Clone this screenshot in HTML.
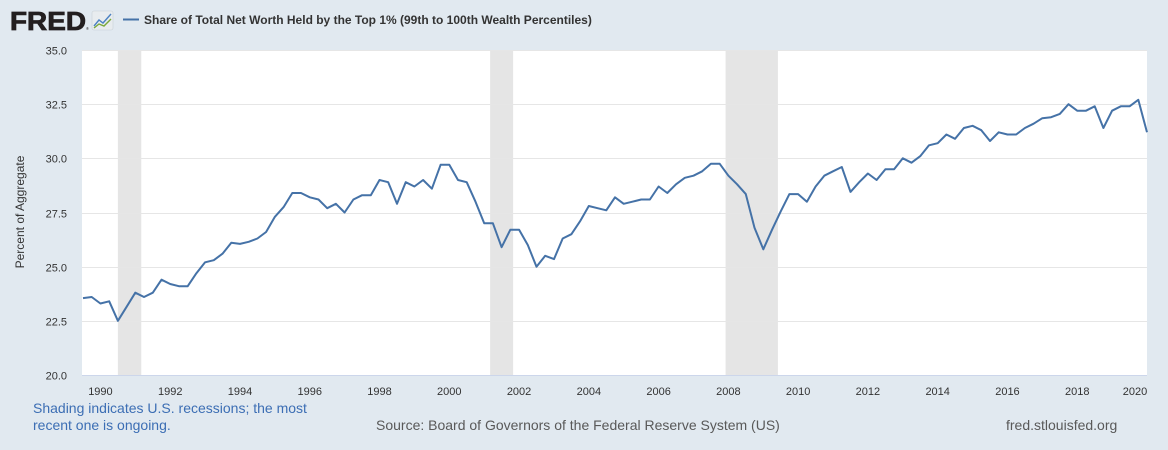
<!DOCTYPE html>
<html><head><meta charset="utf-8">
<style>
body{margin:0;width:1168px;height:450px;background:#e1e9f0;font-family:"Liberation Sans",Arial,sans-serif;overflow:hidden;}
svg{display:block}
</style></head>
<body>
<svg id="chart" width="1168" height="450">
  <g>
    <text x="10" y="30" font-size="26" font-weight="bold" fill="#231f20" textLength="76" lengthAdjust="spacingAndGlyphs" stroke="#231f20" stroke-width="0.8">FRED</text>
    <text x="86" y="30" font-size="4" fill="#231f20">®</text>
    <rect x="92" y="11" width="21" height="19" fill="#e8ecef" stroke="#c8d0d6" stroke-width="0.6" rx="2"/>
    <polyline points="94,26 99,20 103,23 111,14" fill="none" stroke="#4c82c3" stroke-width="1.4"/>
    <polyline points="94,28 99,24 104,26 111,19" fill="none" stroke="#7aa83a" stroke-width="1.4"/>
  </g>
  <g>
    <line x1="123" y1="19.5" x2="139" y2="19.5" stroke="#4572a7" stroke-width="2"/>
    <text x="144" y="24" font-size="12" font-weight="bold" fill="#333">Share of Total Net Worth Held by the Top 1% (99th to 100th Wealth Percentiles)</text>
  </g>
  <rect x="82" y="50" width="1065" height="325" fill="#fff"/>
  <g id="rec"></g>
  <g id="grid"></g>
  <g id="xt"></g>
  <g id="series"></g>
  <line x1="82" y1="375.5" x2="1147" y2="375.5" stroke="#ccd6eb" stroke-width="1"/>
  <text transform="translate(24,212) rotate(-90)" text-anchor="middle" font-size="12" fill="#333">Percent of Aggregate</text>
  <text x="33" y="413" font-size="14" fill="#3c6eb4">Shading indicates U.S. recessions; the most</text>
  <text x="33" y="430" font-size="14" fill="#3c6eb4">recent one is ongoing.</text>
  <text x="376" y="430" font-size="14" fill="#595959">Source: Board of Governors of the Federal Reserve System (US)</text>
  <text x="1006" y="430" font-size="14" fill="#595959">fred.stlouisfed.org</text>
</svg>
<script>
const startYear = 1989.5;
const values = [
23.55,23.6,23.3,23.4,22.5,23.15,23.8,23.6,23.8,24.4,24.2,24.1,24.1,24.7,25.2,25.3,25.6,26.1,26.05,26.15,26.3,26.6,27.3,27.75,28.4,28.4,28.2,28.1,27.7,27.9,27.5,
28.1,28.3,28.3,29.0,28.9,27.9,28.9,28.7,29.0,28.6,29.7,29.7,29.0,28.9,28.0,27.0,27.0,25.9,26.7,26.7,26.0,25.0,25.5,25.35,26.3,26.5,27.1,27.8,27.7,27.6,28.2,
27.9,28.0,28.1,28.1,28.7,28.4,28.8,29.1,29.2,29.4,29.75,29.75,29.2,28.8,28.35,26.8,25.8,26.7,27.55,28.35,28.35,28.0,28.7,29.2,29.4,29.6,28.45,28.9,29.3,29.0,
29.5,29.5,30.0,29.8,30.1,30.6,30.7,31.1,30.9,31.4,31.5,31.3,30.8,31.2,31.1,31.1,31.4,31.6,31.85,31.9,32.05,32.5,32.2,32.2,32.4,31.4,32.2,32.4,32.4,32.7,31.2];
const yTicks = [20.0,22.5,25.0,27.5,30.0,32.5,35.0];
const xTickYears = [1990,1992,1994,1996,1998,2000,2002,2004,2006,2008,2010,2012,2014,2016,2018,2020];
const recessionStarts = [1990.5,2001.17,2007.92];
const recessionEnds = [1991.17,2001.83,2009.42];

const NS="http://www.w3.org/2000/svg";
const X0=83, X1=1147, Y0=375, Y1=50;
const step=(X1-X0)/(values.length-1)*4;
function xTime(t){return X0+(t-startYear)*step;}
function xIdx(i){return xTime(startYear+i*0.25);}
function yv(v){return Y0-(v-20)/15*(Y0-Y1);}
function mk(tag,attrs,parent){const e=document.createElementNS(NS,tag);for(const k in attrs)e.setAttribute(k,attrs[k]);parent.appendChild(e);return e;}

const rec=document.getElementById('rec');
recessionStarts.forEach((s,i)=>{
  const r=mk('rect',{x:xTime(s),y:Y1,width:xTime(recessionEnds[i])-xTime(s),height:Y0-Y1,fill:'#e5e5e5'},rec);
  
  
});
const grid=document.getElementById('grid');
yTicks.forEach(v=>{
  const y=Math.round(yv(v))+0.5;
  if(v>20){const l=mk('line',{x1:82,x2:1147,y1:y,y2:y,stroke:'#e6e6e6','stroke-width':1},grid);
  
  }
  const t=mk('text',{x:67,y:y+4,'text-anchor':'end','font-size':11,fill:'#333'},grid);
  t.textContent=v.toFixed(1);
  
  
});
const xt=document.getElementById('xt');
xTickYears.forEach(yr=>{
  const x=Math.min(xTime(yr),1135);
  const t=mk('text',{x:x,y:395,'text-anchor':'middle','font-size':11,fill:'#333'},xt);
  t.textContent=yr;
  
  
});
const pts=values.map((v,i)=>xIdx(i).toFixed(1)+','+yv(v).toFixed(1)).join(' ');
const pl=mk('polyline',{points:pts,fill:'none',stroke:'#4572a7','stroke-width':2,'stroke-linejoin':'round'},document.getElementById('series'));


</script>
</body></html>
